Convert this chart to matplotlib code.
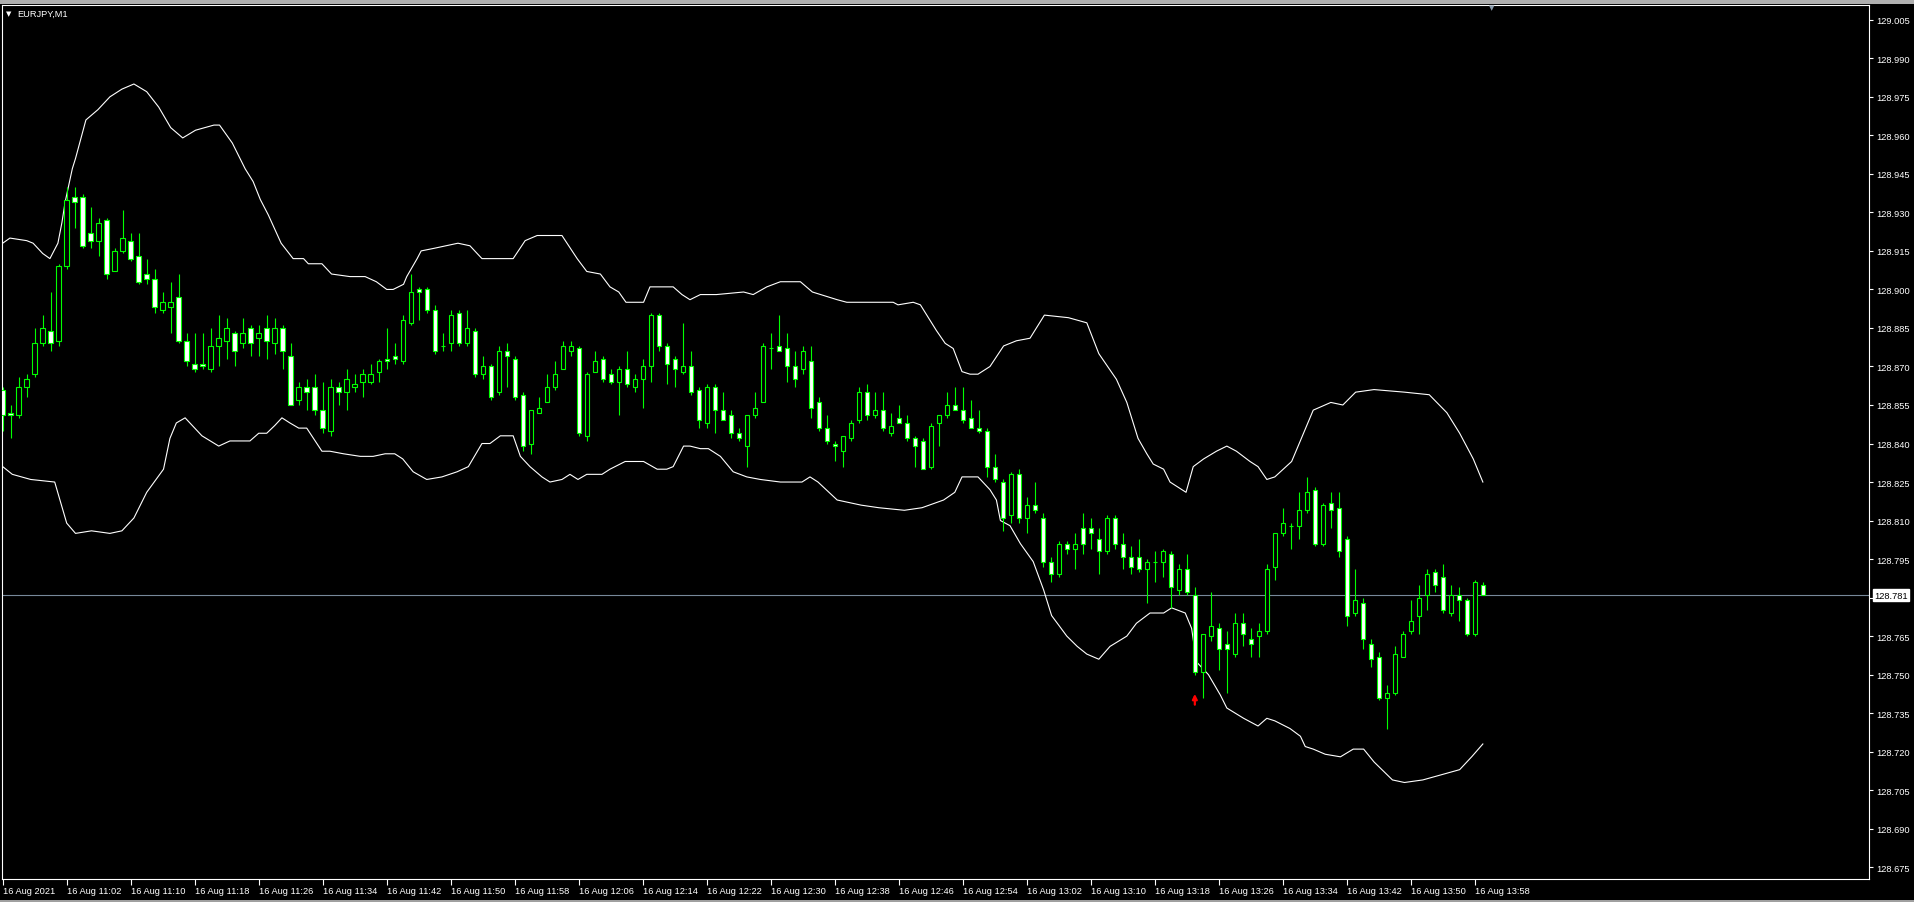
import numpy as np
import matplotlib.pyplot as plt
from matplotlib.patches import Rectangle

# EURJPY M1, 16 Aug 2021, bars 10:54 .. 13:59
# prices are stored as thousandths above BASE (128.000)
BASE = 128.0

opens = [861, 852, 851, 862, 867, 879, 884, 880, 909, 936,
         936, 922, 919, 927, 907, 915, 919, 913, 906, 904,
         892, 893, 897, 880, 871, 871, 869, 878, 880, 883,
         879, 885, 881, 885, 879, 885, 874, 857, 862, 862,
         853, 845, 862, 860, 862, 864, 864, 868, 873, 874,
         872, 887, 900, 900, 892, 878, 879, 891, 879, 884,
         867, 870, 860, 876, 873, 859, 840, 852, 856, 862,
         869, 876, 877, 843, 868, 873, 867, 864, 869, 862,
         865, 870, 890, 878, 873, 868, 870, 861, 848, 862,
         853, 851, 844, 839, 851, 856, 877, 878, 877, 870,
         869, 872, 856, 846, 840, 837, 842, 849, 860, 851,
         853, 844, 850, 848, 842, 841, 831, 848, 851, 855,
         853, 850, 846, 845, 831, 825, 812, 828, 811, 816,
         811, 794, 789, 801, 799, 807, 807, 803, 798, 811,
         801, 796, 796, 791, 794, 794, 797, 783, 791, 781,
         751, 765, 768, 762, 758, 770, 764, 765, 767, 792,
         805, 808, 808, 814, 822, 801, 817, 815, 803, 774,
         778, 762, 757, 741, 743, 757, 767, 773, 781, 790,
         788, 774, 781, 779, 766, 785]

highs = [862, 855, 866, 867, 885, 890, 899, 910, 940, 940,
         937, 932, 928, 928, 916, 931, 922, 922, 912, 908,
         899, 903, 906, 883, 883, 883, 885, 890, 889, 884,
         889, 886, 886, 890, 889, 886, 879, 864, 865, 867,
         864, 865, 864, 869, 867, 869, 871, 873, 885, 879,
         890, 906, 901, 901, 894, 883, 892, 892, 892, 885,
         874, 871, 878, 879, 874, 860, 853, 858, 867, 872,
         880, 880, 878, 868, 876, 874, 869, 870, 876, 867,
         873, 891, 891, 879, 874, 887, 876, 862, 863, 863,
         860, 853, 846, 851, 860, 879, 883, 890, 883, 876,
         878, 878, 858, 851, 841, 843, 849, 862, 863, 860,
         860, 852, 855, 851, 843, 842, 848, 851, 860, 862,
         862, 857, 853, 846, 836, 826, 829, 830, 819, 825,
         813, 796, 802, 802, 805, 813, 811, 807, 812, 812,
         805, 800, 803, 795, 798, 799, 798, 793, 797, 784,
         766, 782, 770, 767, 774, 774, 768, 770, 793, 805,
         815, 809, 821, 827, 823, 817, 821, 821, 804, 791,
         780, 764, 759, 746, 761, 767, 779, 785, 791, 791,
         793, 785, 784, 780, 787, 786]

lows = [845, 842, 850, 858, 866, 878, 876, 878, 908, 924,
        916, 916, 913, 904, 907, 914, 911, 902, 902, 891,
        891, 883, 879, 870, 868, 869, 868, 870, 873, 870,
        877, 874, 874, 873, 875, 869, 855, 855, 853, 851,
        844, 843, 855, 853, 860, 858, 863, 864, 869, 871,
        871, 886, 888, 891, 875, 876, 876, 878, 878, 866,
        865, 857, 859, 862, 857, 837, 836, 852, 856, 861,
        869, 874, 843, 841, 868, 864, 863, 851, 862, 860,
        854, 864, 876, 863, 862, 867, 859, 846, 846, 844,
        849, 842, 841, 831, 850, 856, 869, 876, 864, 862,
        867, 850, 845, 840, 833, 831, 841, 848, 849, 850,
        845, 843, 848, 841, 831, 830, 830, 839, 850, 853,
        848, 846, 844, 827, 825, 806, 809, 809, 805, 813,
        792, 786, 788, 797, 791, 797, 799, 789, 797, 799,
        791, 789, 790, 778, 786, 788, 776, 781, 781, 750,
        741, 763, 752, 743, 757, 761, 757, 757, 766, 787,
        804, 799, 803, 813, 800, 800, 807, 796, 769, 773,
        760, 753, 740, 729, 742, 757, 766, 766, 775, 782,
        774, 773, 771, 765, 765, 781]

closes = [851, 851, 862, 865, 879, 885, 879, 909, 935, 934,
          917, 919, 926, 906, 915, 920, 912, 903, 904, 893,
          895, 895, 880, 872, 869, 870, 878, 881, 885, 876,
          883, 879, 883, 880, 885, 876, 855, 862, 860, 853,
          846, 862, 860, 865, 863, 867, 867, 872, 872, 873,
          888, 899, 899, 892, 876, 878, 890, 879, 885, 867,
          870, 858, 876, 874, 858, 839, 853, 854, 862, 867,
          878, 878, 844, 867, 872, 865, 864, 869, 863, 865,
          870, 890, 878, 871, 869, 870, 860, 849, 862, 853,
          849, 844, 842, 851, 854, 878, 877, 876, 870, 865,
          876, 854, 846, 841, 839, 843, 848, 860, 851, 853,
          846, 847, 848, 842, 839, 830, 847, 851, 855, 853,
          849, 846, 845, 831, 826, 811, 828, 811, 816, 814,
          794, 789, 801, 799, 801, 801, 805, 798, 811, 801,
          796, 792, 791, 794, 794, 798, 784, 791, 782, 751,
          766, 769, 760, 760, 770, 766, 762, 767, 791, 805,
          809, 808, 814, 821, 801, 816, 814, 798, 773, 779,
          764, 756, 741, 743, 758, 766, 771, 780, 789, 785,
          775, 781, 779, 766, 786, 781]

# bands: position in bars, price in thousandths above BASE
upper_idx = [0, 0.9, 3.0, 3.8, 5.0, 5.9, 6.9, 7.4, 7.8, 8.7,
             9.1, 10.4, 11.9, 13.4, 14.9, 16.4, 18.0, 19.5, 21.0, 22.5,
             24.1, 26.4, 27.1, 28.7, 30.3, 31.3, 32.2, 33.2, 34.8, 36.3,
             37.6, 38.2, 39.9, 41.1, 43.4, 45.3, 46.7, 48.0, 48.8, 50.1,
             50.5, 51.8, 52.3, 53.9, 56.9, 58.4, 59.9, 61.9, 63.8, 65.3,
             66.8, 69.9, 71.8, 73.0, 74.7, 75.9, 77.0, 77.9, 80.1, 80.9,
             83.8, 84.9, 85.9, 87.2, 89.2, 92.6, 93.8, 95.5, 97.2, 99.7,
             101.2, 104.3, 105.5, 111.3, 111.9, 113.8, 114.7, 115.5, 116.7, 117.8,
             118.8, 119.9, 120.9, 121.9, 123.4, 125.1, 126.7, 128.4, 130.2, 133.2,
             135.5, 137.0, 139.2, 140.5, 141.3, 141.9, 143.0, 143.8, 145.1, 145.9,
             146.9, 147.9, 148.8, 150.1, 151.7, 153.0, 154.2, 155.9, 156.9, 158.0,
             159.0, 161.1, 163.8, 166.0, 167.5, 169.1, 171.4, 175.2, 178.3, 180.5,
             182.1, 183.8, 185.0]
upper_val = [918, 920, 919, 918, 914, 912, 918, 926, 934, 947,
             951, 966, 970, 975, 978, 980, 977, 971, 963, 959,
             962, 964, 964, 957, 947, 942, 935, 929, 918, 912,
             912, 910, 910, 906, 905, 905, 903, 900, 900, 902,
             905, 912, 915, 916, 918, 917, 912, 912, 912, 919,
             921, 921, 912, 907, 906, 901, 899, 895, 895, 901,
             901, 898, 896, 898, 898, 899, 898, 901, 903, 903,
             899, 896, 895, 895, 894, 895, 894, 890, 884, 879,
             877, 868, 867, 867, 870, 878, 880, 881, 890, 889,
             887, 875, 865, 856, 848, 842, 836, 832, 830, 825,
             823, 821, 831, 834, 837, 839, 837, 833, 831, 826,
             827, 833, 853, 856, 855, 860, 861, 860, 859, 852,
             844, 834, 825]

lower_idx = [0, 1.2, 3.5, 6.5, 8.0, 9.1, 11.1, 13.4, 14.9, 16.4,
             18.0, 20.1, 20.9, 21.7, 22.8, 24.9, 27.0, 28.4, 30.9, 32.0,
             33.0, 34.0, 34.9, 35.9, 37.0, 38.0, 39.9, 40.9, 42.6, 44.7,
             46.3, 47.8, 49.0, 50.0, 51.3, 53.0, 54.9, 56.8, 58.2, 59.9,
             60.9, 62.2, 63.8, 64.7, 65.9, 67.4, 68.4, 69.9, 70.9, 71.9,
             73.0, 74.9, 75.9, 77.8, 80.1, 81.8, 83.0, 83.8, 85.1, 85.9,
             87.2, 88.2, 89.7, 91.3, 93.0, 94.7, 97.2, 99.9, 100.9, 101.9,
             104.3, 107.3, 109.5, 112.7, 114.9, 117.6, 119.0, 119.9, 121.9, 123.4,
             124.2, 124.7, 125.9, 127.2, 128.8, 130.1, 131.1, 133.0, 134.3, 135.5,
             137.0, 138.4, 140.5, 141.7, 143.4, 145.1, 146.1, 147.8, 148.6, 149.2,
             150.7, 152.2, 153.0, 155.1, 156.9, 158.0, 159.0, 160.9, 162.2, 162.8,
             163.8, 165.3, 167.2, 168.8, 170.1, 171.4, 173.7, 175.2, 177.5, 179.8,
             182.1, 183.6, 185.0]
lower_val = [831, 828, 826, 825, 809, 805, 806, 805, 806, 811,
             821, 830, 842, 848, 850, 843, 839, 841, 841, 844,
             844, 847, 850, 848, 846, 846, 837, 837, 836, 835,
             835, 836, 836, 834, 829, 826, 827, 829, 831, 840,
             840, 843, 843, 835, 831, 827, 825, 826, 828, 826,
             828, 828, 830, 833, 833, 830, 830, 831, 839, 839,
             838, 838, 835, 829, 827, 826, 825, 825, 827, 825,
             818, 816, 815, 814, 815, 818, 821, 827, 827, 822,
             818, 810, 808, 801, 794, 783, 773, 765, 761, 758,
             756, 761, 765, 770, 774, 774, 776, 774, 768, 755,
             750, 742, 737, 733, 730, 733, 732, 729, 726, 722,
             721, 719, 718, 721, 721, 716, 709, 708, 709, 711,
             713, 718, 723]

bid = 128.781
signal_bar, signal_price = 149, 128.7425

price_labels = ["129.005", "128.990", "128.975", "128.960", "128.945", "128.930",
                "128.915", "128.900", "128.885", "128.870", "128.855", "128.840",
                "128.825", "128.810", "128.795", "128.780", "128.765", "128.750",
                "128.735", "128.720", "128.705", "128.690", "128.675"]
time_labels = ["16 Aug 2021", "16 Aug 11:02", "16 Aug 11:10", "16 Aug 11:18",
               "16 Aug 11:26", "16 Aug 11:34", "16 Aug 11:42", "16 Aug 11:50",
               "16 Aug 11:58", "16 Aug 12:06", "16 Aug 12:14", "16 Aug 12:22",
               "16 Aug 12:30", "16 Aug 12:38", "16 Aug 12:46", "16 Aug 12:54",
               "16 Aug 13:02", "16 Aug 13:10", "16 Aug 13:18", "16 Aug 13:26",
               "16 Aug 13:34", "16 Aug 13:42", "16 Aug 13:50", "16 Aug 13:58"]

o = BASE + np.array(opens) / 1000
h = BASE + np.array(highs) / 1000
l = BASE + np.array(lows) / 1000
c = BASE + np.array(closes) / 1000
idx = np.arange(len(o))

W, H = 1915, 903
fig = plt.figure(figsize=(W / 100, H / 100), dpi=100, facecolor='black')
ax = fig.add_axes([1.7 / W, 1 - 880 / H, (1869.3 - 1.7) / W, (880 - 6) / H],
                  facecolor='black')
FONT = 'Liberation Sans'
LIME = '#00ff00'

# candles: hollow (black) = up, white = down
ax.vlines(idx, l, h, color=LIME, lw=0.8, zorder=2)
ax.bar(idx, np.abs(c - o), bottom=np.minimum(o, c), width=0.56,
       color=np.where(c >= o, 'black', 'white'), edgecolor=LIME,
       linewidth=0.8, zorder=3)

ax.plot(upper_idx, BASE + np.array(upper_val) / 1000, color='white', lw=0.8, zorder=1)
ax.plot(lower_idx, BASE + np.array(lower_val) / 1000, color='white', lw=0.8, zorder=1)

ax.axhline(bid, color='#778899', lw=0.8, zorder=0)
ax.annotate('', xy=(signal_bar, signal_price), xytext=(signal_bar, signal_price - 0.0042),
            arrowprops=dict(arrowstyle='-|>', color='red', lw=1.6,
                            mutation_scale=7, shrinkA=0, shrinkB=0), zorder=4)

ax.set_xlim(-0.125, 233.3)
ax.set_ylim(128.67042, 129.01076)

for s in ax.spines.values():
    s.set_color('white')
    s.set_linewidth(0.8)

ax.yaxis.tick_right()
ax.set_yticks([float(s) for s in price_labels])
ax.set_yticklabels(price_labels, fontsize=6.7, family=FONT)
ax.tick_params(axis='y', colors='white', length=3, width=0.8, pad=2)

ax.set_xticks(range(0, 8 * len(time_labels), 8))
ax.set_xticklabels(time_labels, fontsize=6.7, family=FONT, ha='left')
ax.tick_params(axis='x', colors='white', length=4, width=0.8, pad=1)

# current price box on the price scale
ax.text(1.0025, bid, '128.781', transform=ax.get_yaxis_transform(), fontsize=6.7,
        family=FONT, color='black', va='center', ha='left', zorder=5,
        bbox=dict(boxstyle='square,pad=0.15', facecolor='white', edgecolor='white'))

# window chrome
fig.patches.append(Rectangle((0, 1 - 5 / H), 1, 5 / H, transform=fig.transFigure,
                             facecolor='#b0b0b0', edgecolor='none'))
fig.patches.append(Rectangle((0, 0), 1, 2.5 / H, transform=fig.transFigure,
                             facecolor='#a0a0a0', edgecolor='none'))
fig.text(17.3 / W, 1 - 14.5 / H, 'EURJPY,M1', color='white', fontsize=6.7,
         family=FONT, va='center', ha='left')
fig.text(9 / W, 1 - 14 / H, '\u25bc', color='white', fontsize=5, va='center', ha='center')
fig.text(1492 / W, 1 - 8 / H, '\u25bc', color='#8899aa', fontsize=5, va='center', ha='center')

fig.savefig('out.png', dpi=100, facecolor='black')
